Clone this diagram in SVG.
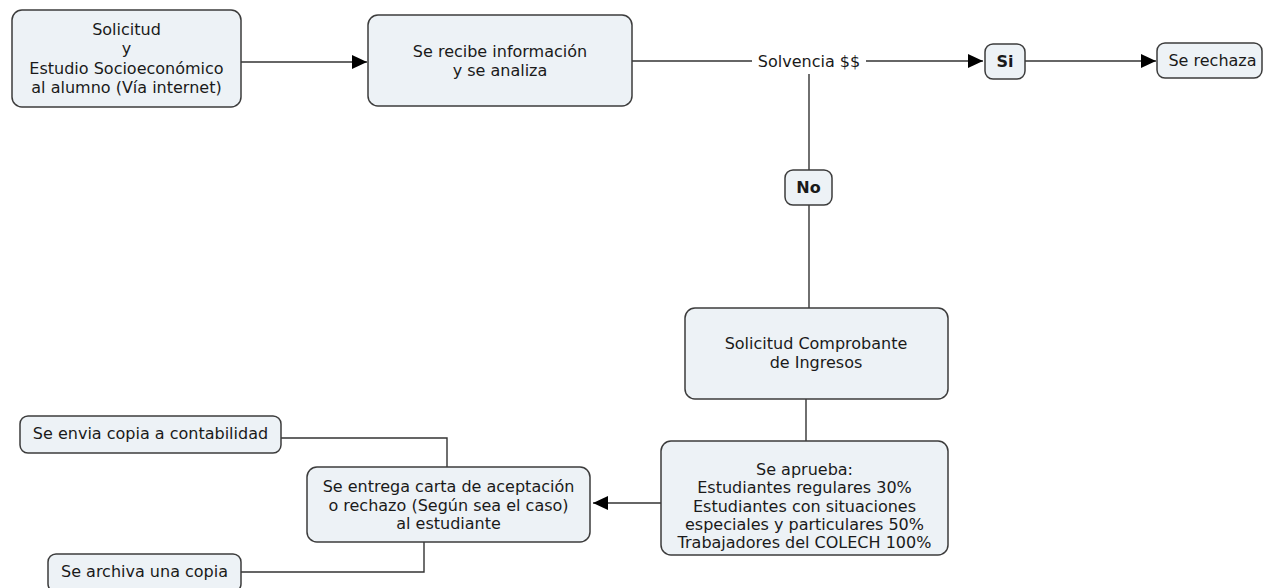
<svg xmlns="http://www.w3.org/2000/svg" width="1263" height="588" viewBox="0 0 1263 588">
<style>
.box{fill:#edf2f6;stroke:#3c3c3c;stroke-width:1.5}
.t{font-family:"DejaVu Sans",Verdana,sans-serif;font-size:16px;fill:#1a1a1a;text-anchor:middle}
.b{font-weight:bold}
.c{fill:none;stroke:#333;stroke-width:1.4}
</style>
<defs>
<marker id="ah" markerUnits="userSpaceOnUse" markerWidth="16" markerHeight="14" refX="15" refY="7" orient="auto">
<path d="M0,0 L15,7 L0,14 Z" fill="#000"/>
</marker>
</defs>
<rect width="1263" height="588" fill="#fff"/>
<g id="connectors">
<line class="c" x1="241" y1="62" x2="367" y2="62" marker-end="url(#ah)"/>
<line class="c" x1="632" y1="61" x2="752" y2="61"/>
<line class="c" x1="866" y1="61" x2="983" y2="61" marker-end="url(#ah)"/>
<line class="c" x1="1025" y1="61" x2="1156" y2="61" marker-end="url(#ah)"/>
<line class="c" x1="809" y1="74" x2="809" y2="170"/>
<line class="c" x1="809" y1="205" x2="809" y2="308"/>
<line class="c" x1="806" y1="399" x2="806" y2="441"/>
<line class="c" x1="661" y1="503" x2="593" y2="503" marker-end="url(#ah)"/>
<polyline class="c" points="447,467 447,438 281,438"/>
<polyline class="c" points="424,542 424,572 241,572"/>
</g>
<g id="n1">
<rect class="box" x="12" y="10" width="229" height="97" rx="10"/>
<text class="t" x="126.5" y="35">Solicitud</text>
<text class="t" x="126.5" y="54">y</text>
<text class="t" x="126.5" y="73.5">Estudio Socioeconómico</text>
<text class="t" x="126.5" y="93">al alumno (Vía internet)</text>
</g>
<g id="n2">
<rect class="box" x="368" y="15" width="264" height="91" rx="10"/>
<text class="t" x="500" y="57">Se recibe información</text>
<text class="t" x="500" y="76">y se analiza</text>
</g>
<g id="solvencia">
<text class="t" x="809" y="67">Solvencia $$</text>
</g>
<g id="si">
<rect class="box" x="985" y="44" width="40" height="35" rx="8"/>
<text class="t b" x="1005" y="67">Si</text>
</g>
<g id="rechaza">
<rect class="box" x="1157" y="43" width="105" height="35" rx="8"/>
<text class="t" x="1212.5" y="66">Se rechaza</text>
</g>
<g id="no">
<rect class="box" x="785" y="170" width="47" height="35" rx="8"/>
<text class="t b" x="808.5" y="193">No</text>
</g>
<g id="comprobante">
<rect class="box" x="685" y="308" width="263" height="91" rx="10"/>
<text class="t" x="816" y="349">Solicitud Comprobante</text>
<text class="t" x="816" y="368">de Ingresos</text>
</g>
<g id="aprueba">
<rect class="box" x="661" y="441" width="287" height="114" rx="10"/>
<text class="t" x="804.5" y="475">Se aprueba:</text>
<text class="t" x="804.5" y="493">Estudiantes regulares 30%</text>
<text class="t" x="804.5" y="511.5">Estudiantes con situaciones</text>
<text class="t" x="804.5" y="530">especiales y particulares 50%</text>
<text class="t" x="804.5" y="548">Trabajadores del COLECH 100%</text>
</g>
<g id="entrega">
<rect class="box" x="307" y="467" width="283" height="75" rx="10"/>
<text class="t" x="448.5" y="492">Se entrega carta de aceptación</text>
<text class="t" x="448.5" y="510.5">o rechazo (Según sea el caso)</text>
<text class="t" x="448.5" y="529">al estudiante</text>
</g>
<g id="envia">
<rect class="box" x="20" y="416" width="261" height="37" rx="8"/>
<text class="t" x="150.5" y="439">Se envia copia a contabilidad</text>
</g>
<g id="archiva">
<rect class="box" x="48" y="554" width="193" height="38" rx="8"/>
<text class="t" x="144.5" y="577">Se archiva una copia</text>
</g>
</svg>
